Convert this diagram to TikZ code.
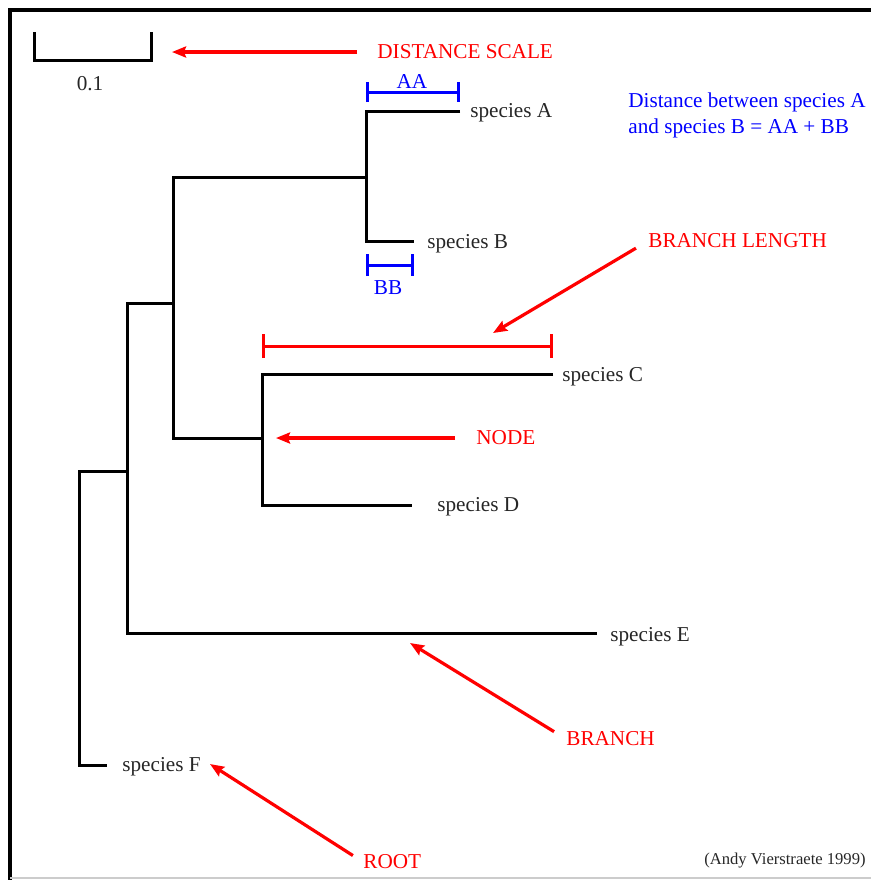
\documentclass[tikz,border=0pt]{standalone}
\usepackage{fontspec}
\setmainfont{Liberation Serif}
\usetikzlibrary{arrows.meta,positioning}

\tikzset{
  tree/.style={black, line width=1.5pt},
  species/.style={anchor=mid west, inner sep=0pt, font=\fontsize{10.6}{13}\selectfont, text=black!85},
  callout/.style={anchor=west, inner sep=0pt, font=\fontsize{10.6}{13}\selectfont, text=red},
  pointer/.style={red, line width=1.6pt, -{Stealth[length=7pt, width=5.5pt, inset=1pt]}},
  dimbar/.style={line width=1.5pt},
}

\begin{document}
\begin{tikzpicture}[x=0.5pt, y=-0.5pt]
  \useasboundingbox (0,0) rectangle (871,880);

  % frame
  \draw[black, line width=2pt] (10,880) -- (10,10) -- (871,10);
  \draw[black!20, line width=1pt] (10,878) -- (871,878);

  % scale bar
  \coordinate (scaleL) at (34,32);
  \coordinate (scaleR) at (151,32);
  \draw[tree] (scaleL) -- ++(0,28) -| (scaleR);
  \node[species, anchor=center] (scaleval) at (90,84) {0.1};

  % tips and inner nodes of the tree
  \coordinate (tA) at (460,111);
  \coordinate (tB) at (414,241);
  \coordinate (tC) at (553,374);
  \coordinate (tD) at (412,505);
  \coordinate (tE) at (597,633);
  \coordinate (tF) at (107,765);
  \coordinate (nAB) at (366,177);
  \coordinate (nCD) at (262,438);
  \coordinate (nABCD) at (173,303);
  \coordinate (nE) at (127,471);
  \coordinate (root) at (79,765);

  % branches
  \draw[tree] (tA) -| (nAB) |- (tB);
  \draw[tree] (tC) -| (nCD) |- (tD);
  \draw[tree] (nAB) -| (nABCD) |- (nCD);
  \draw[tree] (nABCD) -| (nE) |- (tE);
  \draw[tree] (nE) -| (root) -- (tF);

  % species labels
  \node[species] (labA) at (470,113) {species A};
  \node[species] (labB) at (427,244) {species B};
  \node[species] (labC) at (562,377) {species C};
  \node[species] (labD) at (437,507) {species D};
  \node[species] (labE) at (610,637) {species E};
  \node[species] (labF) at (122,767) {species F};

  % distances AA and BB
  \coordinate (aaL) at (366,92);
  \coordinate (aaR) at (460,92);
  \coordinate (bbL) at (366,265);
  \coordinate (bbR) at (414,265);
  \draw[dimbar, blue, {Bar[width=10pt]}-{Bar[width=10pt]}] (aaL) -- (aaR);
  \draw[dimbar, blue, {Bar[width=11pt]}-{Bar[width=11pt]}] (bbL) -- (bbR);
  \node[species, anchor=center, text=blue] (labAA) at (412,81) {AA};
  \node[species, anchor=center, text=blue] (labBB) at (388,288) {BB};
  \node[species, anchor=west, align=left, text=blue] (sumtext) at (628,115)
    {Distance between species A\\and species B = AA + BB};

  % branch length bar
  \coordinate (lenL) at (262,346);
  \coordinate (lenR) at (553,346);
  \draw[dimbar, red, {Bar[width=12pt]}-{Bar[width=12pt]}] (lenL) -- (lenR);

  % callouts
  \node[callout] (lblScale) at (377,52) {DISTANCE SCALE};
  \node[callout] (lblLength) at (648,241) {BRANCH LENGTH};
  \node[callout] (lblNode) at (476,438) {NODE};
  \node[callout] (lblBranch) at (566,739) {BRANCH};
  \node[callout] (lblRoot) at (363,862) {ROOT};

  \coordinate (hScale) at (172,52);
  \coordinate (hLength) at (493,333);
  \coordinate (hNode) at (276,438);
  \coordinate (hBranch) at (410,643);
  \coordinate (hRoot) at (210,764);

  \draw[pointer, shorten <=10pt] (lblScale.west) -- (hScale);
  \draw[pointer, shorten <=7pt] (lblLength.west) -- (hLength);
  \draw[pointer, shorten <=10.5pt] (lblNode.west) -- (hNode);
  \draw[pointer, shorten <=7pt] (lblBranch.west) -- (hBranch);
  \draw[pointer, shorten <=6pt] (lblRoot.west) -- (hRoot);

  % credit
  \node[species, anchor=east, font=\fontsize{8.3}{10}\selectfont] (credit) at (866,861) {(Andy Vierstraete 1999)};
\end{tikzpicture}
\end{document}
